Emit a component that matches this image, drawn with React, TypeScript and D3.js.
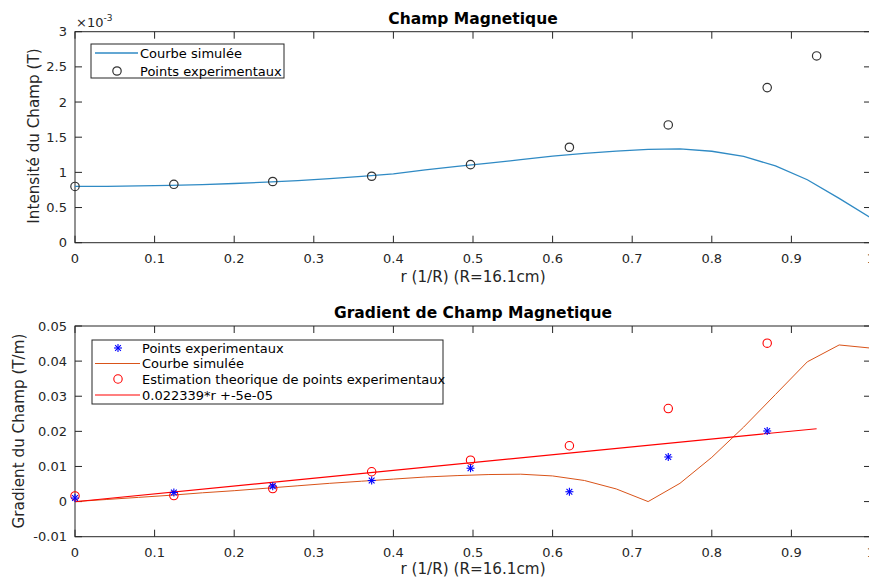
import React from "react";
import * as d3 from "d3";

// ---------- Data ----------
const expR = [0, 0.1242, 0.2484, 0.3727, 0.4969, 0.6211, 0.7453, 0.8696, 0.9317];
// Top: field intensity (units of 1e-3 T)
const expB = [0.8, 0.83, 0.87, 0.945, 1.11, 1.357, 1.674, 2.205, 2.655];
const simR = [0, 0.04, 0.08, 0.12, 0.16, 0.2, 0.24, 0.28, 0.32, 0.36, 0.4, 0.44, 0.48, 0.52, 0.56, 0.6, 0.64, 0.68, 0.72, 0.76, 0.8, 0.84, 0.88, 0.92, 0.96, 1.0];
const simB = [0.8, 0.802, 0.807, 0.815, 0.826, 0.842, 0.861, 0.884, 0.912, 0.944, 0.98, 1.035, 1.085, 1.13, 1.18, 1.232, 1.27, 1.303, 1.328, 1.335, 1.3, 1.228, 1.092, 0.895, 0.63, 0.35];
// Bottom: gradient (T/m)
const expG = [0.001, 0.0026, 0.0044, 0.006, 0.0095, 0.0028, 0.0127, 0.0201];
const estG = [0.0016, 0.0017, 0.0037, 0.0085, 0.0118, 0.0159, 0.0265, 0.0451];
const simG = [0, 0.0006, 0.0012, 0.0018, 0.0025, 0.0031, 0.0038, 0.0045, 0.0052, 0.0058, 0.0064, 0.007, 0.0074, 0.0077, 0.0078, 0.0073, 0.006, 0.0036, 0.0, 0.0052, 0.0126, 0.0212, 0.0305, 0.0398, 0.0446, 0.0437];
const fitR = [0, 0.9317];
const fitG = [-0.00005, 0.02076];

const xTicks = [0, 0.1, 0.2, 0.3, 0.4, 0.5, 0.6, 0.7, 0.8, 0.9, 1];
const yTopTicks = [0, 0.5, 1, 1.5, 2, 2.5, 3];
const yBotTicks = [-0.01, 0, 0.01, 0.02, 0.03, 0.04, 0.05];

const AX = "#262626";
const FONT = "DejaVu Sans, sans-serif";

const x = d3.scaleLinear().domain([0, 1]).range([75, 871]);
const yTop = d3.scaleLinear().domain([0, 3]).range([242.7, 31.7]);
const yBot = d3.scaleLinear().domain([-0.01, 0.05]).range([536.7, 326]);

function Star({ cx, cy, s = 4, color = "#0000FF" }: { cx: number; cy: number; s?: number; color?: string }) {
  const d = s * 0.72;
  return (
    <g stroke={color} strokeWidth={1.1}>
      <line x1={cx - s} y1={cy} x2={cx + s} y2={cy} />
      <line x1={cx} y1={cy - s} x2={cx} y2={cy + s} />
      <line x1={cx - d} y1={cy - d} x2={cx + d} y2={cy + d} />
      <line x1={cx - d} y1={cy + d} x2={cx + d} y2={cy - d} />
    </g>
  );
}

function Axes({ y, yTicks, fmt }: { y: d3.ScaleLinear<number, number>; yTicks: number[]; fmt: (v: number) => string }) {
  const [x0, x1] = x.range();
  const [y0, y1] = y.range();
  const tl = 7;
  return (
    <g>
      <rect x={x0} y={y1} width={x1 - x0} height={y0 - y1} fill="none" stroke={AX} strokeWidth={1} />
      {xTicks.map((t) => (
        <g key={"x" + t}>
          <line x1={x(t)} x2={x(t)} y1={y0} y2={y0 - tl} stroke={AX} />
          <line x1={x(t)} x2={x(t)} y1={y1} y2={y1 + tl} stroke={AX} />
          <text x={x(t)} y={y0 + 20} textAnchor="middle" fontSize={13} fill={AX} fontFamily={FONT}>
            {String(t)}
          </text>
        </g>
      ))}
      {yTicks.map((t) => (
        <g key={"y" + t}>
          <line x1={x0} x2={x0 + tl} y1={y(t)} y2={y(t)} stroke={AX} />
          <line x1={x1} x2={x1 - tl} y1={y(t)} y2={y(t)} stroke={AX} />
          <text x={x0 - 8} y={y(t) + 4.5} textAnchor="end" fontSize={13} fill={AX} fontFamily={FONT}>
            {fmt(t)}
          </text>
        </g>
      ))}
    </g>
  );
}

export default function App() {
  const lineTop = d3.line<number>().x((_, i) => x(simR[i])).y((d) => yTop(d));
  const lineBot = d3.line<number>().x((_, i) => x(simR[i])).y((d) => yBot(d));
  const lineFit = d3.line<number>().x((_, i) => x(fitR[i])).y((d) => yBot(d));

  return (
    <svg width={869} height={580} style={{ position: "absolute", left: 0, top: 0, background: "#fff" }} fontFamily={FONT}>
      <rect width={869} height={580} fill="#fff" />
      {/* ---------- Top plot ---------- */}
      <text x={473} y={24} textAnchor="middle" fontSize={15.5} fontWeight="bold" fill="#000">Champ Magnetique</text>
      <Axes y={yTop} yTicks={yTopTicks} fmt={(v) => String(v)} />
      <text x={76} y={27} fontSize={13} fill={AX}>
        ×10<tspan dy={-6} fontSize={9}>-3</tspan>
      </text>
      <text x={473} y={282} textAnchor="middle" fontSize={15.2} fill={AX}>r (1/R) (R=16.1cm)</text>
      <text transform={`translate(39,136) rotate(-90)`} textAnchor="middle" fontSize={15.2} fill={AX}>Intensité du Champ (T)</text>
      <path d={lineTop(simB) || ""} fill="none" stroke="#2f8ac4" strokeWidth={1.3} />
      {expB.map((v, i) => (
        <circle key={i} cx={x(expR[i])} cy={yTop(v)} r={4.2} fill="none" stroke="#333" strokeWidth={1.2} />
      ))}
      {/* legend top */}
      <g>
        <rect x={91} y={44} width={193} height={34} fill="#fff" stroke={AX} strokeWidth={1} />
        <line x1={95} x2={138} y1={53} y2={53} stroke="#2f8ac4" strokeWidth={1.3} />
        <text x={140} y={57.5} fontSize={13} fill="#000">Courbe simulée</text>
        <circle cx={117} cy={71} r={4.2} fill="none" stroke="#333" strokeWidth={1.2} />
        <text x={140} y={75.5} fontSize={13} fill="#000">Points experimentaux</text>
      </g>

      {/* ---------- Bottom plot ---------- */}
      <text x={473} y={318} textAnchor="middle" fontSize={15.5} fontWeight="bold" fill="#000">Gradient de Champ Magnetique</text>
      <Axes y={yBot} yTicks={yBotTicks} fmt={(v) => (v === 0 ? "0" : String(+v.toFixed(2)))} />
      <text x={473} y={574} textAnchor="middle" fontSize={15.2} fill={AX}>r (1/R) (R=16.1cm)</text>
      <text transform={`translate(24,431) rotate(-90)`} textAnchor="middle" fontSize={15.2} fill={AX}>Gradient du Champ (T/m)</text>
      <path d={lineBot(simG) || ""} fill="none" stroke="#D95319" strokeWidth={1} />
      <path d={lineFit(fitG) || ""} fill="none" stroke="#FF0000" strokeWidth={1.1} />
      {estG.map((v, i) => (
        <circle key={"e" + i} cx={x(expR[i])} cy={yBot(v)} r={4.2} fill="none" stroke="#FF0000" strokeWidth={1.1} />
      ))}
      {expG.map((v, i) => (
        <Star key={"s" + i} cx={x(expR[i])} cy={yBot(v)} />
      ))}
      {/* legend bottom */}
      <g>
        <rect x={92} y={340} width={351} height={64} fill="#fff" stroke={AX} strokeWidth={1} />
        <Star cx={118} cy={348} />
        <text x={142} y={352.5} fontSize={13} fill="#000">Points experimentaux</text>
        <line x1={95} x2={140} y1={363.5} y2={363.5} stroke="#D95319" strokeWidth={1} />
        <text x={142} y={368} fontSize={13} fill="#000">Courbe simulée</text>
        <circle cx={118} cy={379} r={4.2} fill="none" stroke="#FF0000" strokeWidth={1.1} />
        <text x={142} y={383.5} fontSize={13} fill="#000">Estimation theorique de points experimentaux</text>
        <line x1={95} x2={140} y1={395} y2={395} stroke="#FF0000" strokeWidth={1.1} />
        <text x={142} y={399.5} fontSize={13} fill="#000">0.022339*r +-5e-05</text>
      </g>
    </svg>
  );
}
